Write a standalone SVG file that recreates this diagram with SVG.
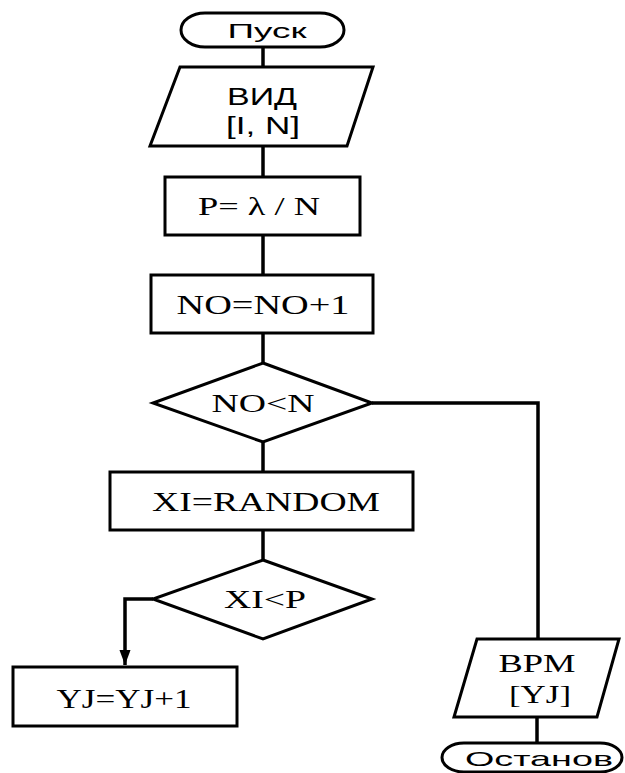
<svg xmlns="http://www.w3.org/2000/svg" width="625" height="773" viewBox="0 0 625 773">
<style>
.shape{fill:#fff;stroke:#000;stroke-width:3;stroke-linejoin:miter}
.conn{fill:none;stroke:#000;stroke-width:3.5}
.sans{font-family:"Liberation Sans",Arial,sans-serif;fill:#000}
.serif{font-family:"Liberation Serif","Times New Roman",serif;fill:#000}
</style>
<defs>
<marker id="arr" markerUnits="userSpaceOnUse" markerWidth="16" markerHeight="22" refX="19" refY="7" orient="auto" viewBox="0 0 20 14">
<path d="M0,0 L19,7 L0,14 Z" fill="#000"/>
</marker>
</defs>
<rect width="625" height="773" fill="#fff"/>
<g id="connectors">
<line class="conn" x1="263" y1="47" x2="263" y2="67"/>
<line class="conn" x1="263" y1="146" x2="263" y2="177"/>
<line class="conn" x1="263" y1="235" x2="263" y2="275"/>
<line class="conn" x1="263" y1="333" x2="263" y2="363"/>
<line class="conn" x1="263" y1="442" x2="263" y2="472"/>
<line class="conn" x1="263" y1="530" x2="263" y2="560"/>
<polyline class="conn" points="153,599 125,599 125,665" marker-end="url(#arr)"/>
<polyline class="conn" points="372,403 538,403 538,639"/>
<line class="conn" x1="537" y1="717" x2="537" y2="743"/>
</g>
<g id="start">
<rect class="shape" x="181" y="13" width="163" height="34" rx="24" ry="17"/>
<text class="sans" x="267" y="38" font-size="21" text-anchor="middle" textLength="79" lengthAdjust="spacingAndGlyphs">Пуск</text>
</g>
<g id="input">
<polygon class="shape" points="180,67 373,67 347,146 150,146"/>
<text class="sans" x="262" y="105" font-size="23" text-anchor="middle" textLength="70" lengthAdjust="spacingAndGlyphs">ВИД</text>
<text class="sans" x="263" y="134" font-size="23" text-anchor="middle" textLength="74" lengthAdjust="spacingAndGlyphs">[I, N]</text>
</g>
<g id="calcP">
<rect class="shape" x="165" y="177" width="195" height="58"/>
<text class="serif" x="259" y="215" font-size="25" text-anchor="middle" textLength="122" lengthAdjust="spacingAndGlyphs">P= λ / N</text>
</g>
<g id="incNO">
<rect class="shape" x="151" y="275" width="222" height="58"/>
<text class="serif" x="263" y="314" font-size="27" text-anchor="middle" textLength="173" lengthAdjust="spacingAndGlyphs">NO=NO+1</text>
</g>
<g id="checkNO">
<polygon class="shape" points="263,363 372,403 263,442 153,403"/>
<text class="serif" x="263" y="412" font-size="26" text-anchor="middle" textLength="103" lengthAdjust="spacingAndGlyphs">NO&lt;N</text>
</g>
<g id="random">
<rect class="shape" x="110" y="472" width="303" height="58"/>
<text class="serif" x="266" y="511" font-size="27" text-anchor="middle" textLength="228" lengthAdjust="spacingAndGlyphs">XI=RANDOM</text>
</g>
<g id="checkXI">
<polygon class="shape" points="263,560 372,599 263,639 153,599"/>
<text class="serif" x="265" y="608" font-size="26" text-anchor="middle" textLength="82" lengthAdjust="spacingAndGlyphs">XI&lt;P</text>
</g>
<g id="incYJ">
<rect class="shape" x="13" y="667" width="224" height="59"/>
<text class="serif" x="124" y="708" font-size="27" text-anchor="middle" textLength="135" lengthAdjust="spacingAndGlyphs">YJ=YJ+1</text>
</g>
<g id="output">
<polygon class="shape" points="477,639 619,639 597,717 454,717"/>
<text class="serif" x="537" y="672" font-size="25" text-anchor="middle" textLength="77" lengthAdjust="spacingAndGlyphs">BPM</text>
<text class="serif" x="540" y="703" font-size="25" text-anchor="middle" textLength="62" lengthAdjust="spacingAndGlyphs">[YJ]</text>
</g>
<g id="stop">
<rect class="shape" x="442" y="743" width="180" height="29" rx="22" ry="14.5"/>
<text class="sans" x="539" y="766" font-size="21" text-anchor="middle" textLength="148" lengthAdjust="spacingAndGlyphs">Останов</text>
</g>
</svg>
